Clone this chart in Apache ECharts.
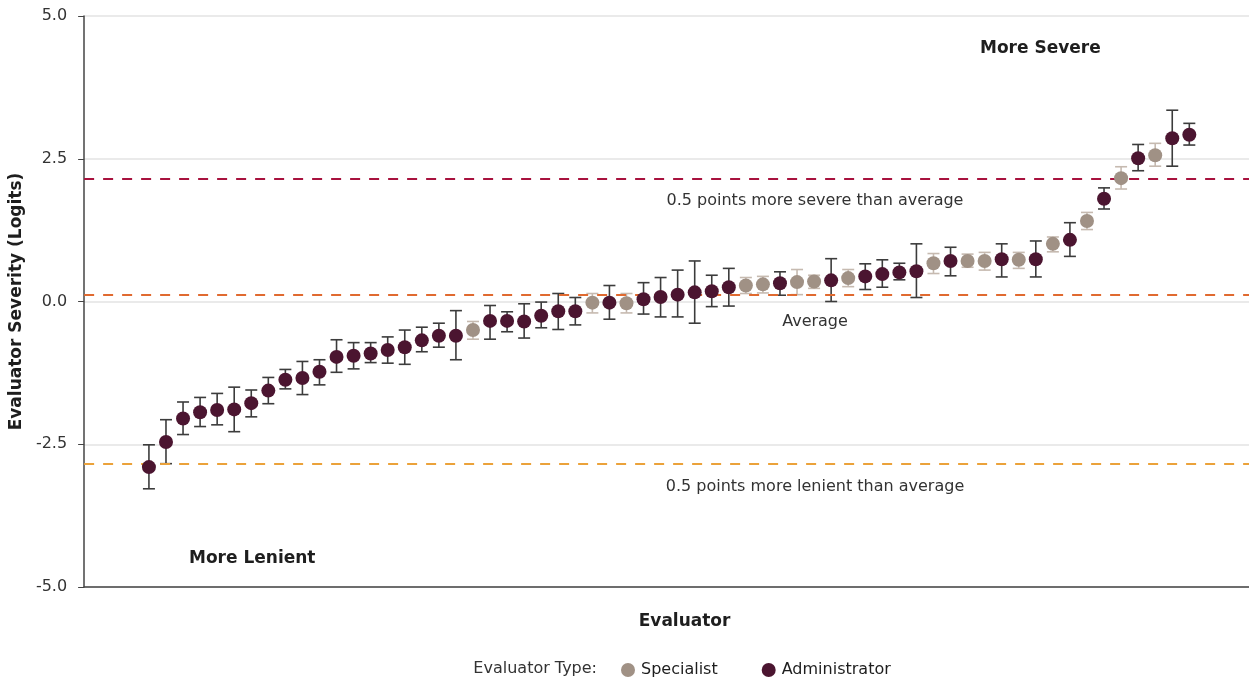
<!DOCTYPE html>
<html>
<head>
<meta charset="utf-8">
<style>
  html, body { margin: 0; padding: 0; background: #fff; }
  #chart { width: 1249px; height: 681px; }
</style>
<script src="https://cdn.jsdelivr.net/npm/echarts@6/dist/echarts.min.js"></script>
</head>
<body>
<div id="chart"></div>
<script>
// Evaluators ranked from most lenient to most severe
const evaluatorType = [
  'A','A','A','A','A','A','A','A','A','A',
  'A','A','A','A','A','A','A','A','A','S',
  'A','A','A','A','A','A','S','A','S','A',
  'A','A','A','A','A','S','S','A','S','S',
  'A','S','A','A','A','A','S','A','S','S',
  'A','S','A','S','A','S','A','S','A','S',
  'A','A'
];
// Severity estimate (logits)
const severity = [
  -2.90,-2.46,-2.05,-1.94,-1.90,-1.89,-1.78,-1.56,-1.37,-1.34,
  -1.23,-0.97,-0.95,-0.91,-0.85,-0.80,-0.68,-0.60,-0.60,-0.50,
  -0.34,-0.34,-0.35,-0.25,-0.17,-0.17,-0.02,-0.02,-0.03,0.04,
  0.08,0.12,0.16,0.18,0.25,0.28,0.30,0.32,0.34,0.35,
  0.37,0.41,0.44,0.48,0.51,0.53,0.67,0.71,0.71,0.71,
  0.74,0.73,0.74,1.01,1.08,1.41,1.80,2.16,2.51,2.56,
  2.86,2.92
];
// Upper and lower ends of the error bars
const upper = [
  -2.51,-2.07,-1.76,-1.68,-1.61,-1.50,-1.55,-1.33,-1.19,-1.05,
  -1.02,-0.67,-0.72,-0.72,-0.62,-0.50,-0.45,-0.38,-0.16,-0.35,
  -0.07,-0.18,-0.04,-0.01,0.14,0.07,0.14,0.28,0.14,0.33,
  0.42,0.55,0.71,0.46,0.58,0.42,0.44,0.52,0.56,0.46,
  0.75,0.56,0.66,0.73,0.67,1.01,0.84,0.95,0.83,0.86,
  1.01,0.86,1.06,1.13,1.38,1.56,1.99,2.36,2.75,2.77,
  3.35,3.12
];
const lower = [
  -3.28,-2.84,-2.33,-2.19,-2.16,-2.28,-2.02,-1.79,-1.53,-1.63,
  -1.46,-1.24,-1.18,-1.07,-1.08,-1.10,-0.88,-0.80,-1.02,-0.66,
  -0.66,-0.53,-0.64,-0.46,-0.49,-0.41,-0.20,-0.31,-0.20,-0.22,
  -0.27,-0.27,-0.38,-0.09,-0.08,0.14,0.15,0.11,0.12,0.23,
  0.00,0.26,0.21,0.25,0.38,0.07,0.49,0.45,0.60,0.55,
  0.43,0.58,0.43,0.87,0.79,1.26,1.62,1.97,2.29,2.37,
  2.37,2.74
];
// Reference lines
const averageLine = 0.11;
const severeLine = 2.15;
const lenientLine = -2.84;
const yTicks = [-5, -2.5, 0, 2.5, 5];

const FONT = '"DejaVu Sans", "Open Sans", sans-serif';
const C_ADMIN = '#4b1530';
const C_SPEC = '#a09185';
const C_ADMIN_BAR = '#3c3c3c';
const C_SPEC_BAR = '#c6bab0';

function pointsOf(t) {
  const out = [];
  severity.forEach((v, i) => { if (evaluatorType[i] === t) out.push([i, v]); });
  return out;
}
function barsOf(t) {
  const out = [];
  severity.forEach((v, i) => { if (evaluatorType[i] === t) out.push([i, lower[i], upper[i]]); });
  return out;
}
function errorBar(color) {
  return function (params, api) {
    const lo = api.coord([api.value(0), api.value(1)]);
    const hi = api.coord([api.value(0), api.value(2)]);
    const half = 6;
    const style = { stroke: color, lineWidth: 1.6, fill: null };
    return {
      type: 'group',
      children: [
        { type: 'line', shape: { x1: lo[0], y1: lo[1], x2: hi[0], y2: hi[1] }, style },
        { type: 'line', shape: { x1: lo[0] - half, y1: lo[1], x2: lo[0] + half, y2: lo[1] }, style },
        { type: 'line', shape: { x1: hi[0] - half, y1: hi[1], x2: hi[0] + half, y2: hi[1] }, style }
      ]
    };
  };
}
function refLine(value, color) {
  return {
    type: 'line', data: [], silent: true,
    markLine: {
      silent: true, symbol: 'none', animation: false,
      label: { show: false },
      lineStyle: { color: color, width: 2, type: [10, 9] },
      data: [{ yAxis: value }]
    }
  };
}
function note(text, x, y, weight, size, align) {
  return {
    type: 'text', x: x, y: y,
    style: {
      text: text, font: weight + ' ' + size + 'px ' + FONT,
      fill: weight === 'bold' ? '#1e1e1e' : '#333',
      align: align, verticalAlign: 'middle'
    }
  };
}

const chart = echarts.init(document.getElementById('chart'));
chart.setOption({
  animation: false,
  textStyle: { fontFamily: FONT },
  grid: { left: 83, right: 0, top: 16, bottom: 94 },
  xAxis: {
    type: 'value', min: -3.8, max: 64.5,
    name: 'Evaluator', nameLocation: 'middle', nameGap: 26,
    nameTextStyle: { fontSize: 17, fontWeight: 'bold', color: '#1e1e1e', fontFamily: FONT, padding: [0, 0, 0, 36] },
    axisLine: { show: true, onZero: false, lineStyle: { color: '#444', width: 1.5 } },
    axisTick: { show: false }, axisLabel: { show: false }, splitLine: { show: false }
  },
  yAxis: {
    type: 'value', min: yTicks[0], max: yTicks[yTicks.length - 1], interval: 2.5,
    name: 'Evaluator Severity (Logits)', nameLocation: 'middle', nameGap: 57,
    nameTextStyle: { fontSize: 17, fontWeight: 'bold', color: '#1e1e1e', fontFamily: FONT },
    axisLine: { show: true, onZero: false, lineStyle: { color: '#444', width: 1.5 } },
    axisTick: { show: true, length: 6, lineStyle: { color: '#444' } },
    axisLabel: { fontSize: 16, color: '#333', margin: 17, formatter: v => v.toFixed(1) },
    splitLine: { show: true, lineStyle: { color: '#e3e3e3', width: 1.5 } }
  },
  legend: {
    left: 616, top: 657, itemWidth: 14, itemHeight: 14, itemGap: 44,
    icon: 'circle',
    textStyle: { fontSize: 16, color: '#1e1e1e', fontFamily: FONT, padding: [0, 0, 0, 1] },
    data: ['Specialist', 'Administrator']
  },
  graphic: [
    note('Evaluator Type:', 597, 669, 'normal', 16, 'right'),
    note('More Severe', 980, 49, 'bold', 17, 'left'),
    note('More Lenient', 189, 559, 'bold', 17, 'left'),
    note('0.5 points more severe than average', 815, 201, 'normal', 16, 'center'),
    note('Average', 815, 322, 'normal', 16, 'center'),
    note('0.5 points more lenient than average', 815, 487, 'normal', 16, 'center')
  ],
  series: [
    refLine(severeLine, '#a8123e'),
    refLine(averageLine, '#e06a30'),
    refLine(lenientLine, '#eba23a'),
    { type: 'custom', name: 'specBars', renderItem: errorBar(C_SPEC_BAR), data: barsOf('S'), z: 3, silent: true },
    { type: 'custom', name: 'adminBars', renderItem: errorBar(C_ADMIN_BAR), data: barsOf('A'), z: 3, silent: true },
    { type: 'scatter', name: 'Specialist', data: pointsOf('S'), symbolSize: 14, itemStyle: { color: C_SPEC, opacity: 1 }, z: 5 },
    { type: 'scatter', name: 'Administrator', data: pointsOf('A'), symbolSize: 14, itemStyle: { color: C_ADMIN, opacity: 1 }, z: 5 }
  ]
});
</script>
</body>
</html>
